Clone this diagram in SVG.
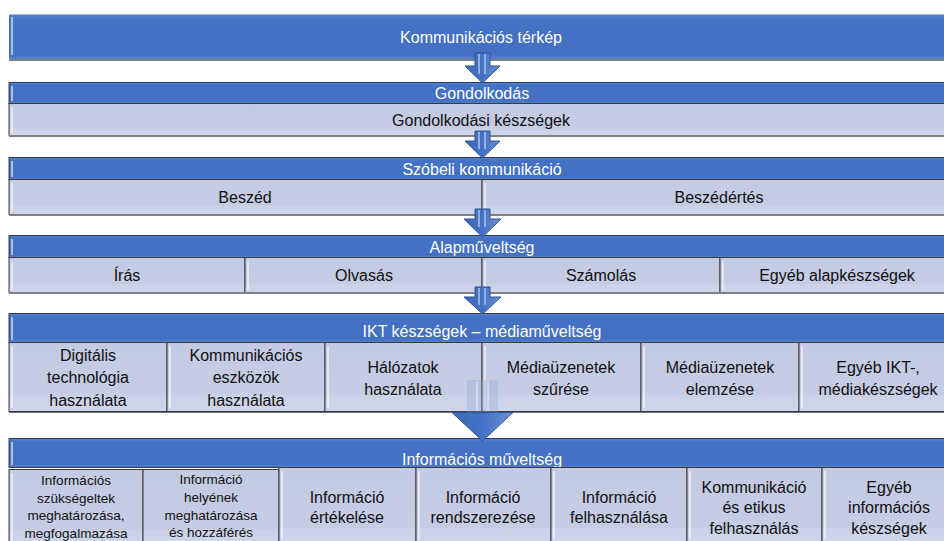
<svg xmlns="http://www.w3.org/2000/svg" width="944" height="541" viewBox="0 0 944 541">
  <defs>
    <linearGradient id="hdrGrad" x1="0" y1="0" x2="0" y2="1">
      <stop offset="0" stop-color="#5B84CC"/>
      <stop offset="0.12" stop-color="#4472C4"/>
      <stop offset="0.88" stop-color="#4370C2"/>
      <stop offset="1" stop-color="#5A82CB"/>
    </linearGradient>
    <linearGradient id="cellGrad" x1="0" y1="0" x2="0" y2="1">
      <stop offset="0" stop-color="#C3CAE3"/>
      <stop offset="0.75" stop-color="#C5CCE4"/>
      <stop offset="0.76" stop-color="#CBD1E8"/>
      <stop offset="1" stop-color="#D0D6EA"/>
    </linearGradient>
    <linearGradient id="arrowGrad" x1="0" y1="0" x2="1" y2="0">
      <stop offset="0" stop-color="#3D68B8"/>
      <stop offset="0.5" stop-color="#4472C4"/>
      <stop offset="1" stop-color="#6A90D4"/>
    </linearGradient>
    <style>
      .hdr { fill: url(#hdrGrad); stroke: #2E3B55; stroke-width: 1; }
      .top { fill: url(#hdrGrad); }
      .cell { fill: url(#cellGrad); stroke: #3A3A3A; stroke-width: 1; }
      .shine { fill: #FFFFFF; opacity: 0.55; }
      .base { stroke: #808080; stroke-width: 2; }
      .tw { font-family: "Liberation Sans", Arial, sans-serif; font-size: 16px; fill: #FFFFFF; text-anchor: middle; }
      .td { font-family: "Liberation Sans", Arial, sans-serif; font-size: 16px; fill: #111111; text-anchor: middle; }
      .ts { font-family: "Liberation Sans", Arial, sans-serif; font-size: 13.5px; fill: #111111; text-anchor: middle; }
      .tm { font-family: "Liberation Sans", Arial, sans-serif; font-size: 16px; fill: #111111; text-anchor: middle; }
      .arrow { fill: url(#arrowGrad); stroke: #2F5597; stroke-width: 1; stroke-linejoin: miter; }
      .stripe { stroke: #C9D7F0; stroke-width: 1.5; opacity: 0.8; }
    </style>
  </defs>

  <!-- Top -->
  <g id="kommunikacios-terkep">
    <rect class="top" x="9" y="14" width="945" height="46"/>
    <line x1="9" y1="14.5" x2="944" y2="14.5" stroke="#A9B9D9" stroke-width="1"/>
    <line x1="9" y1="60" x2="944" y2="60" class="base"/>
    <rect class="shine" x="11" y="17" width="2" height="38"/>
    <text class="tw" x="481" y="42.5">Kommunikációs térkép</text>
  </g>

  <!-- Gondolkodás -->
  <g id="gondolkodas">
    <rect class="hdr" x="9" y="82.5" width="945" height="21"/>
    <rect class="shine" x="11" y="86" width="2" height="15"/>
    <text class="tw" x="482" y="99">Gondolkodás</text>
  </g>
  <g id="gondolkodasi-keszsegek">
    <rect class="cell" x="9" y="103.5" width="945" height="32"/>
    <line x1="9" y1="136" x2="944" y2="136" class="base"/>
    <rect class="shine" x="11" y="107" width="2" height="26"/>
    <text class="td" x="481" y="126">Gondolkodási készségek</text>
  </g>

  <!-- Szóbeli kommunikáció -->
  <g id="szobeli-kommunikacio">
    <rect class="hdr" x="9" y="157.5" width="945" height="22"/>
    <rect class="shine" x="11" y="161" width="2" height="16"/>
    <text class="tw" x="482" y="175">Szóbeli kommunikáció</text>
  </g>
  <g id="beszed">
    <rect class="cell" x="9" y="179.5" width="473" height="35"/>
    <rect class="shine" x="11" y="183" width="2" height="29"/>
    <text class="td" x="245" y="203">Beszéd</text>
  </g>
  <g id="beszedertes">
    <rect class="cell" x="482" y="179.5" width="472" height="35"/>
    <rect class="shine" x="484" y="183" width="2" height="29"/>
    <text class="td" x="719" y="203">Beszédértés</text>
  </g>
  <line x1="9" y1="215" x2="944" y2="215" class="base"/>

  <!-- Alapműveltség -->
  <g id="alapmuveltseg">
    <rect class="hdr" x="9" y="235.5" width="945" height="22"/>
    <rect class="shine" x="11" y="239" width="2" height="16"/>
    <text class="tw" x="482" y="253">Alapműveltség</text>
  </g>
  <g id="iras">
    <rect class="cell" x="9" y="257.5" width="236" height="35"/>
    <rect class="shine" x="11" y="261" width="2" height="29"/>
    <text class="td" x="127" y="281">Írás</text>
  </g>
  <g id="olvasas">
    <rect class="cell" x="245" y="257.5" width="237" height="35"/>
    <rect class="shine" x="247" y="261" width="2" height="29"/>
    <text class="td" x="364" y="281">Olvasás</text>
  </g>
  <g id="szamolas">
    <rect class="cell" x="482" y="257.5" width="238" height="35"/>
    <rect class="shine" x="484" y="261" width="2" height="29"/>
    <text class="td" x="601" y="281">Számolás</text>
  </g>
  <g id="egyeb-alapkeszsegek">
    <rect class="cell" x="720" y="257.5" width="238" height="35"/>
    <rect class="shine" x="722" y="261" width="2" height="29"/>
    <text class="td" x="837" y="281">Egyéb alapkészségek</text>
  </g>
  <line x1="9" y1="293" x2="944" y2="293" class="base"/>

  <!-- IKT -->
  <g id="ikt-keszsegek">
    <rect class="hdr" x="9" y="313.5" width="945" height="29"/>
    <rect class="shine" x="11" y="317" width="2" height="23"/>
    <text class="tw" x="482" y="337">IKT készségek – médiaműveltség</text>
  </g>
  <g id="digitalis-technologia">
    <rect class="cell" x="9" y="342.5" width="158" height="69"/>
    <rect class="shine" x="11" y="346" width="2" height="62"/>
    <text class="td" x="88" y="361">Digitális</text>
    <text class="td" x="88" y="383">technológia</text>
    <text class="td" x="88" y="406">használata</text>
  </g>
  <g id="kommunikacios-eszkozok">
    <rect class="cell" x="167" y="342.5" width="158" height="69"/>
    <rect class="shine" x="169" y="346" width="2" height="62"/>
    <text class="td" x="246" y="361">Kommunikációs</text>
    <text class="td" x="246" y="383">eszközök</text>
    <text class="td" x="246" y="406">használata</text>
  </g>
  <g id="halozatok">
    <rect class="cell" x="325" y="342.5" width="157" height="69"/>
    <rect class="shine" x="327" y="346" width="2" height="62"/>
    <text class="td" x="403" y="373">Hálózatok</text>
    <text class="td" x="403" y="395">használata</text>
  </g>
  <g id="mediauzenetek-szurese">
    <rect class="cell" x="482" y="342.5" width="159" height="69"/>
    <rect class="shine" x="484" y="346" width="2" height="62"/>
    <text class="td" x="561" y="373">Médiaüzenetek</text>
    <text class="td" x="561" y="395">szűrése</text>
  </g>
  <g id="mediauzenetek-elemzese">
    <rect class="cell" x="641" y="342.5" width="158" height="69"/>
    <rect class="shine" x="643" y="346" width="2" height="62"/>
    <text class="td" x="720" y="373">Médiaüzenetek</text>
    <text class="td" x="720" y="395">elemzése</text>
  </g>
  <g id="egyeb-ikt">
    <rect class="cell" x="799" y="342.5" width="159" height="69"/>
    <rect class="shine" x="801" y="346" width="2" height="62"/>
    <text class="td" x="878" y="373">Egyéb IKT-,</text>
    <text class="td" x="878" y="395">médiakészségek</text>
  </g>
  <line x1="9" y1="412" x2="944" y2="412" stroke="#404040" stroke-width="1.5"/>

  <!-- Információs műveltség -->
  <g id="informacios-muveltseg">
    <rect class="hdr" x="9" y="438.5" width="945" height="29"/>
    <rect class="shine" x="11" y="442" width="2" height="23"/>
    <text class="tw" x="482" y="465">Információs műveltség</text>
  </g>
  <g id="informacios-szuksegletek">
    <rect class="cell" x="9" y="469.5" width="134" height="80"/>
    <rect class="shine" x="11" y="473" width="2" height="68"/>
    <text class="ts" x="76" y="485">Információs</text>
    <text class="ts" x="76" y="502.5">szükségeltek</text>
    <text class="ts" x="76" y="520">meghatározása,</text>
    <text class="ts" x="76" y="537.5">megfogalmazása</text>
  </g>
  <g id="informacio-helyenek">
    <rect class="cell" x="143" y="469.5" width="136" height="80"/>
    <text class="ts" x="211" y="484">Információ</text>
    <text class="ts" x="211" y="501.5">helyének</text>
    <text class="ts" x="211" y="519.5">meghatározása</text>
    <text class="ts" x="211" y="537">és hozzáférés</text>
  </g>
  <g id="informacio-ertekelese">
    <rect class="cell" x="279" y="467.5" width="137" height="80"/>
    <rect class="shine" x="281" y="471" width="2" height="68"/>
    <text class="tm" x="347" y="503">Információ</text>
    <text class="tm" x="347" y="523">értékelése</text>
  </g>
  <g id="informacio-rendszerezese">
    <rect class="cell" x="416" y="467.5" width="135" height="80"/>
    <rect class="shine" x="418" y="471" width="2" height="68"/>
    <text class="tm" x="483" y="503">Információ</text>
    <text class="tm" x="483" y="523">rendszerezése</text>
  </g>
  <g id="informacio-felhasznalasa">
    <rect class="cell" x="551" y="467.5" width="136" height="80"/>
    <rect class="shine" x="553" y="471" width="2" height="68"/>
    <text class="tm" x="619" y="503">Információ</text>
    <text class="tm" x="619" y="523">felhasználása</text>
  </g>
  <g id="kommunikacio-etikus">
    <rect class="cell" x="687" y="467.5" width="135" height="80"/>
    <rect class="shine" x="689" y="471" width="2" height="68"/>
    <text class="tm" x="754" y="493">Kommunikáció</text>
    <text class="tm" x="754" y="513">és etikus</text>
    <text class="tm" x="754" y="534">felhasználás</text>
  </g>
  <g id="egyeb-informacios">
    <rect class="cell" x="822" y="467.5" width="136" height="80"/>
    <rect class="shine" x="824" y="471" width="2" height="68"/>
    <text class="tm" x="889" y="493">Egyéb</text>
    <text class="tm" x="889" y="513">információs</text>
    <text class="tm" x="889" y="534">készségek</text>
  </g>

  <!-- Connectors -->
  <g id="connectors">
    <g id="arrow-1">
      <polygon class="arrow" points="475,53 490,53 490,66 500,66 482.5,83 465,66 475,66"/>
      <line class="stripe" x1="479" y1="54" x2="479" y2="74"/>
      <line class="stripe" x1="485" y1="54" x2="485" y2="74"/>
    </g>
    <g id="arrow-2">
      <polygon class="arrow" points="475,131 490,131 490,141 500,141 482.5,158 465,141 475,141"/>
      <line class="stripe" x1="479" y1="132" x2="479" y2="149"/>
      <line class="stripe" x1="485" y1="132" x2="485" y2="149"/>
    </g>
    <g id="arrow-3">
      <polygon class="arrow" points="475,209 490,209 490,219 501,219 482.5,237 464,219 475,219"/>
      <line class="stripe" x1="479" y1="210" x2="479" y2="227"/>
      <line class="stripe" x1="485" y1="210" x2="485" y2="227"/>
    </g>
    <g id="arrow-4">
      <polygon class="arrow" points="475,287 490,287 490,297 501,297 482.5,314 464,297 475,297"/>
      <line class="stripe" x1="479" y1="288" x2="479" y2="305"/>
      <line class="stripe" x1="485" y1="288" x2="485" y2="305"/>
    </g>
    <g id="arrow-5">
      <rect x="467" y="380" width="31" height="32" fill="#8EA4D4" opacity="0.3"/>
      <line x1="477" y1="381" x2="477" y2="411" stroke="#FFFFFF" stroke-width="1.5" opacity="0.5"/>
      <line x1="488" y1="381" x2="488" y2="411" stroke="#FFFFFF" stroke-width="1.5" opacity="0.5"/>
      <polygon class="arrow" points="452,412.5 513,412.5 482.5,441"/>
    </g>
  </g>
</svg>
